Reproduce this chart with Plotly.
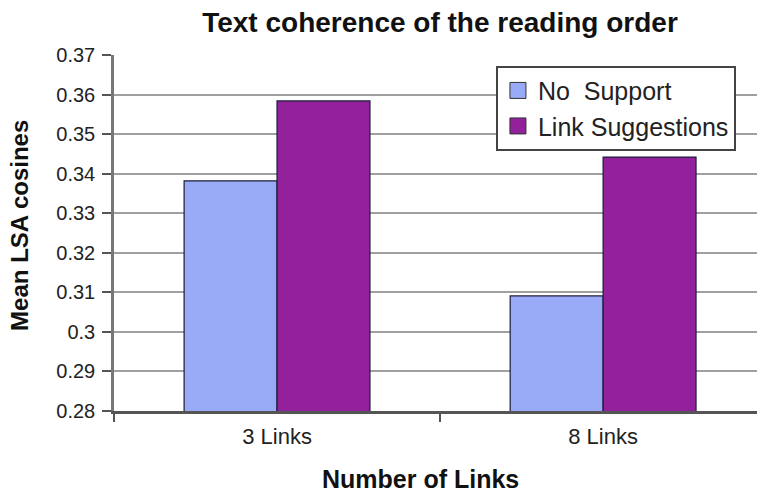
import plotly.graph_objects as go

# Data
categories = ["3 Links", "8 Links"]
no_support = [0.3382, 0.3091]
link_suggestions = [0.3584, 0.3442]
series_names = ["No  Support", "Link Suggestions"]
y_tick_values = [0.28, 0.29, 0.30, 0.31, 0.32, 0.33, 0.34, 0.35, 0.36, 0.37]
y_tick_labels = ["0.28", "0.29", "0.3", "0.31", "0.32", "0.33", "0.34", "0.35", "0.36", "0.37"]

FONT = "Liberation Sans, Arial, sans-serif"
BLUE = "#99AAF7"
PURPLE = "#93219C"
EDGE = "#1c1c3a"

fig = go.Figure()
for name, vals, col in [(series_names[0], no_support, BLUE),
                        (series_names[1], link_suggestions, PURPLE)]:
    fig.add_trace(go.Bar(
        x=categories, y=vals, name=name, showlegend=False,
        marker=dict(color=col, line=dict(color=EDGE, width=1.2)),
    ))
    # legend swatch
    fig.add_trace(go.Scatter(
        x=[None], y=[None], mode="markers", name=name,
        marker=dict(symbol="square", size=18, color=col,
                    line=dict(color="#333333", width=1)),
    ))

fig.update_layout(
    width=757, height=493,
    margin=dict(l=114, r=0, t=55, b=82),
    paper_bgcolor="white", plot_bgcolor="white",
    barmode="group", bargap=0.43, bargroupgap=0,
    font=dict(family=FONT, color="#222222"),
    title=dict(text="<b>Text coherence of the reading order</b>",
               x=0.507, xref="paper", xanchor="center",
               y=1 - 22 / 493, yref="container", yanchor="middle",
               font=dict(size=28, family=FONT, color="#111111")),
    xaxis=dict(
        type="category", range=[-0.5, 1.472],
        showline=True, linecolor="#555555", linewidth=3,
        ticks="outside", tickson="boundaries", ticklen=8,
        tickcolor="#555555", tickwidth=2,
        ticklabelstandoff=4,
        tickfont=dict(size=22, family=FONT, color="#222222"),
        showgrid=False, zeroline=False,
    ),
    yaxis=dict(
        range=[0.28, 0.37], tickvals=y_tick_values, ticktext=y_tick_labels,
        showline=True, linecolor="#777777", linewidth=2.5,
        ticks="outside", ticklen=9, tickcolor="#555555", tickwidth=2,
        ticklabelstandoff=3,
        tickfont=dict(size=20, family=FONT, color="#222222"),
        showgrid=True, gridcolor="#a0a0a0", gridwidth=1.5,
        zeroline=False,
    ),
    legend=dict(
        x=0.594, y=0.97, xanchor="left", yanchor="top",
        bordercolor="#444444", borderwidth=2, bgcolor="white",
        font=dict(size=25, family=FONT, color="#222222"),
        itemwidth=30,
    ),
    annotations=[
        dict(text="<b>Mean LSA cosines</b>", textangle=-90,
             x=(20 - 114) / 643, y=0.52, xref="paper", yref="paper",
             xanchor="center", yanchor="middle", showarrow=False,
             font=dict(size=24, family=FONT, color="#111111")),
        dict(text="<b>Number of Links</b>",
             x=(420 - 114) / 643, y=(411.5 - 480) / 356.5,
             xref="paper", yref="paper",
             xanchor="center", yanchor="middle", showarrow=False,
             font=dict(size=25, family=FONT, color="#111111")),
    ],
)

fig.write_html("out.html")
